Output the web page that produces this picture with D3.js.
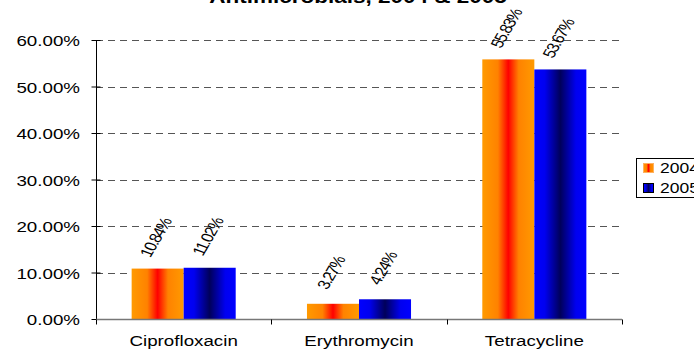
<!DOCTYPE html>
<html>
<head>
<meta charset="utf-8">
<script src="https://cdn.jsdelivr.net/npm/d3@7"></script>
<style>
  html, body { margin: 0; padding: 0; background: #fff; overflow: hidden; }
  text { font-family: Arial, "Liberation Sans", sans-serif; }
</style>
</head>
<body>
<svg id="chart" width="694" height="349"></svg>
<script>
// Resistance share by drug and year
const categories = ["Ciprofloxacin", "Erythromycin", "Tetracycline"];
const seriesNames = ["2004", "2005"];
const values2004 = [10.84, 3.27, 55.83];
const values2005 = [11.02, 4.24, 53.67];
const yTicks = [0, 10, 20, 30, 40, 50, 60];
const title = "Antimicrobials, 2004 & 2005";

const seriesValues = [values2004, values2005];
const svg = d3.select("#chart");

// All text is drawn a little wide
const SX = 1.25;

const plot = { left: 96, right: 622, top: 40, bottom: 319 };

const x0 = d3.scaleBand().domain(categories).range([plot.left, plot.right]).padding(0);
const x1 = d3.scaleBand().domain(seriesNames).range([0, x0.bandwidth()])
  .paddingInner(0).paddingOuter(0.685);
const y = d3.scaleLinear().domain([0, 60]).range([plot.bottom, plot.top]);

// Horizontal gradients for the bar fills
const defs = svg.append("defs");
const grads = [
  { id: "g2004", stops: [[0, "#ff9a00"], [0.3, "#ff8200"], [0.5, "#ff0000"], [0.7, "#ff8200"], [1, "#ff9a00"]] },
  { id: "g2005", stops: [[0, "#0000ff"], [0.2, "#0000f0"], [0.5, "#00005a"], [0.8, "#0000f0"], [1, "#0000ff"]] }
];
grads.forEach(g => {
  const lg = defs.append("linearGradient").attr("id", g.id)
    .attr("x1", "0%").attr("x2", "100%").attr("y1", "0%").attr("y2", "0%");
  g.stops.forEach(s => lg.append("stop").attr("offset", s[0]).attr("stop-color", s[1]));
});

// Title (sits partly above the top edge)
svg.append("text")
  .attr("transform", `translate(358,3) scale(${SX},1)`)
  .attr("text-anchor", "middle")
  .attr("font-size", 18).attr("font-weight", "bold")
  .text(title);

// Dashed gridlines
svg.append("g").selectAll("line")
  .data(yTicks.filter(t => t > 0))
  .join("line")
  .attr("x1", plot.left).attr("x2", plot.right)
  .attr("y1", d => Math.round(y(d)) + 0.5).attr("y2", d => Math.round(y(d)) + 0.5)
  .attr("stroke", "#555").attr("stroke-width", 1)
  .attr("stroke-dasharray", "7,5");

// Bars
const groups = svg.append("g").selectAll("g")
  .data(seriesNames)
  .join("g");

groups.each(function(s, si) {
  d3.select(this).selectAll("rect")
    .data(categories.map((c, ci) => ({ c, v: seriesValues[si][ci] })))
    .join("rect")
    .attr("x", d => x0(d.c) + x1(s))
    .attr("width", x1.bandwidth())
    .attr("y", d => y(d.v))
    .attr("height", d => y(0) - y(d.v))
    .attr("fill", `url(#g${s})`);
});

// Value labels, rotated
groups.each(function(s, si) {
  d3.select(this).selectAll("text")
    .data(categories.map((c, ci) => ({ c, v: seriesValues[si][ci] })))
    .join("text")
    .attr("transform", d => {
      const cx = x0(d.c) + x1(s) + x1.bandwidth() / 2 - 2;
      const cy = y(d.v) - 31;
      return `translate(${cx},${cy}) scale(${SX},1) rotate(-65)`;
    })
    .attr("text-anchor", "middle")
    .attr("dominant-baseline", "central")
    .attr("font-size", 14)
    .attr("letter-spacing", -1.1)
    .text(d => d.v.toFixed(2) + "%");
});

// Y axis
const yAxis = d3.axisLeft(y).tickValues(yTicks).tickFormat(d => d.toFixed(2) + "%").tickSize(5);
const yg = svg.append("g").attr("transform", `translate(${plot.left + 0.5},0)`).call(yAxis);
yg.select(".domain").attr("stroke", "#000").attr("d", `M0,${plot.top}V${plot.bottom}`);
yg.selectAll(".tick line").attr("stroke", "#000").attr("x1", 4);
yg.selectAll(".tick text")
  .attr("x", 0).attr("dy", null)
  .attr("transform", `translate(-16.5,5.5) scale(${SX},1)`)
  .attr("font-size", 15).attr("fill", "#000")
  .attr("font-family", "Arial, 'Liberation Sans', sans-serif");

// X axis with ticks on category boundaries
const xg = svg.append("g").attr("transform", `translate(0,${plot.bottom + 0.5})`);
xg.append("line").attr("x1", plot.left).attr("x2", plot.right)
  .attr("stroke", "#777").attr("stroke-width", 1.5);
const bounds = categories.map(c => x0(c)).concat([plot.right]);
xg.selectAll(".xt").data(bounds).join("line").attr("class", "xt")
  .attr("x1", d => Math.round(d) + 0.5).attr("x2", d => Math.round(d) + 0.5)
  .attr("y1", 0).attr("y2", 5).attr("stroke", "#000");
xg.selectAll(".xl").data(categories).join("text").attr("class", "xl")
  .attr("transform", d => `translate(${x0(d) + x0.bandwidth() / 2},26.5) scale(${SX},1)`)
  .attr("text-anchor", "middle").attr("font-size", 15)
  .text(d => d);

// Legend (runs off the right edge)
const lg = svg.append("g").attr("transform", "translate(636,158)");
lg.append("rect").attr("x", 0.5).attr("y", 0.5).attr("width", 80).attr("height", 39)
  .attr("fill", "#fff").attr("stroke", "#000");
seriesNames.forEach((s, i) => {
  lg.append("rect").attr("x", 7.5).attr("y", 5.5 + i * 20).attr("width", 10).attr("height", 9)
    .attr("fill", `url(#g${s})`).attr("stroke", i === 0 ? "#ffb060" : "#000");
  lg.append("text").attr("transform", `translate(24,${15 + i * 20}) scale(${SX},1)`)
    .attr("font-size", 14).text(s);
});
</script>
</body>
</html>
